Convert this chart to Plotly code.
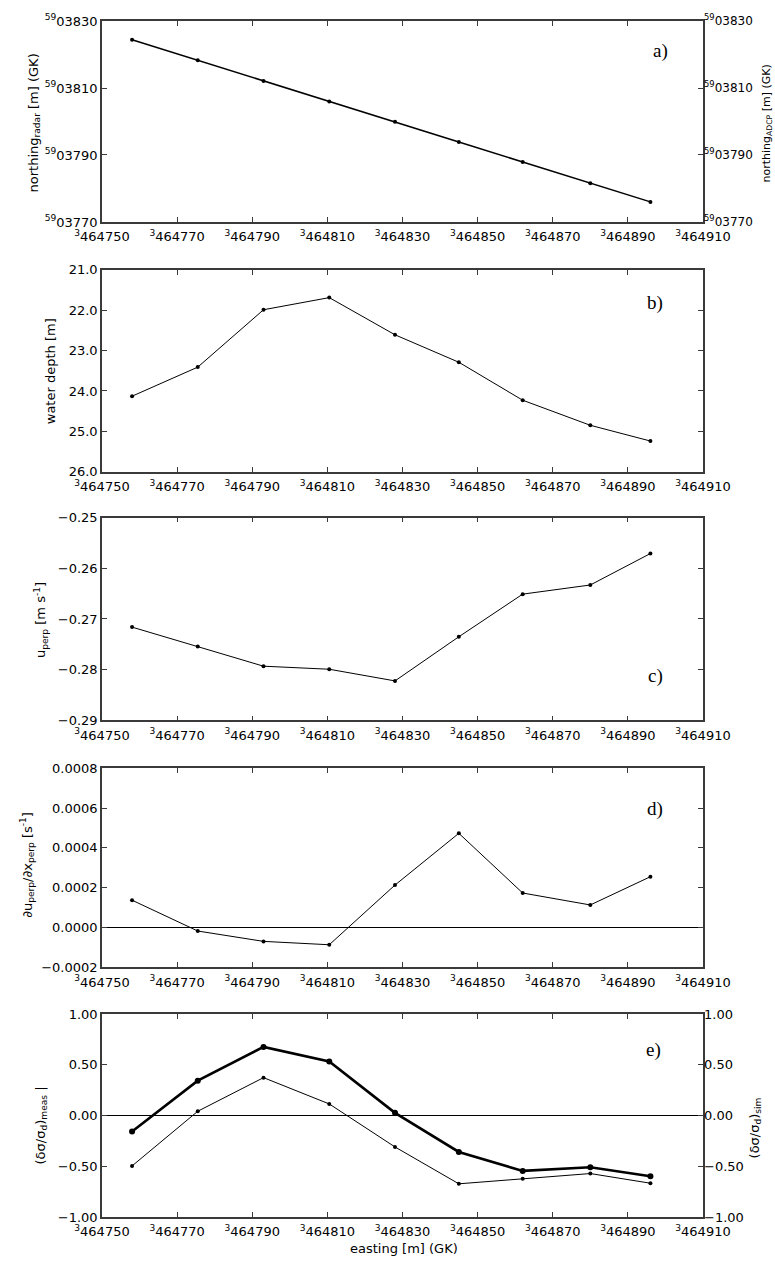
import plotly.graph_objects as go

# ---------------- data ----------------
easting = [464758, 464775.5, 464793, 464810.5, 464828, 464845, 464862, 464880, 464896]
northing = [5903824.4, 5903818.3, 5903812.1, 5903806.0, 5903799.9,
            5903793.9, 5903787.9, 5903781.6, 5903776.0]
depth = [24.13, 23.41, 21.99, 21.69, 22.61, 23.29, 24.23, 24.85, 25.24]
u_perp = [-0.2716, -0.2754, -0.2793, -0.2799, -0.2822, -0.2735, -0.2651, -0.2633, -0.2571]
dudx = [0.000137, -0.000018, -0.000070, -0.000087, 0.000213,
        0.000473, 0.000173, 0.000113, 0.000255]
ds_meas = [-0.157, 0.343, 0.676, 0.533, 0.026, -0.359, -0.546, -0.510, -0.598]
ds_sim = [-0.497, 0.042, 0.373, 0.114, -0.310, -0.673, -0.624, -0.572, -0.667]

x_tickvals = [464750, 464770, 464790, 464810, 464830, 464850, 464870, 464890, 464910]
x_ticktext = ["<sup>3</sup>464750", "<sup>3</sup>464770", "<sup>3</sup>464790",
              "<sup>3</sup>464810", "<sup>3</sup>464830", "<sup>3</sup>464850",
              "<sup>3</sup>464870", "<sup>3</sup>464890", "<sup>3</sup>464910"]
n_tickvals = [5903770, 5903790, 5903810, 5903830]
n_ticktext = ["<sup>59</sup>03770", "<sup>59</sup>03790", "<sup>59</sup>03810", "<sup>59</sup>03830"]

# ---------------- layout geometry ----------------
W, H = 775, 1261
ML, MR, MT, MB = 102, 72, 15, 44
PW, PH = W - ML - MR, H - MT - MB

def ydom(top, bot):
    return [1 - (bot - MT) / PH, 1 - (top - MT) / PH]

def px(x):
    return (x - ML) / PW

def py(y):
    return 1 - (y - MT) / PH

panels = [(15, 217), (265, 468), (514, 718), (766, 966), (1013, 1217)]

TF = dict(family="DejaVu Sans", size=13, color="black")
TFR = dict(family="DejaVu Sans", size=12, color="black")
AX = "#3a3a3a"

fig = go.Figure()
line_thin = dict(color="black", width=1)
mk = dict(color="black", size=4)

fig.add_trace(go.Scatter(x=easting, y=northing, mode="lines+markers",
                         line=dict(color="black", width=1.5), marker=mk,
                         xaxis="x", yaxis="y", showlegend=False))
fig.add_trace(go.Scatter(x=easting, y=northing, mode="lines", line=dict(width=0),
                         xaxis="x", yaxis="y6", showlegend=False, hoverinfo="skip"))
fig.add_trace(go.Scatter(x=easting, y=depth, mode="lines+markers", line=line_thin, marker=mk,
                         xaxis="x2", yaxis="y2", showlegend=False))
fig.add_trace(go.Scatter(x=easting, y=u_perp, mode="lines+markers", line=line_thin, marker=mk,
                         xaxis="x3", yaxis="y3", showlegend=False))
fig.add_trace(go.Scatter(x=easting, y=dudx, mode="lines+markers", line=line_thin, marker=mk,
                         xaxis="x4", yaxis="y4", showlegend=False))
fig.add_trace(go.Scatter(x=easting, y=ds_sim, mode="lines+markers", line=line_thin, marker=mk,
                         xaxis="x5", yaxis="y7", showlegend=False))
fig.add_trace(go.Scatter(x=easting, y=ds_meas, mode="lines+markers",
                         line=dict(color="black", width=2.6), marker=dict(color="black", size=6),
                         xaxis="x5", yaxis="y5", showlegend=False))

layout = dict(width=W, height=H, margin=dict(l=ML, r=MR, t=MT, b=MB),
              plot_bgcolor="white", paper_bgcolor="white", showlegend=False)

yranges = [[5903770, 5903830], [26, 21], [-0.29, -0.25], [-0.0002, 0.0008], [-1, 1]]
for i, (top, bot) in enumerate(panels):
    k = "" if i == 0 else str(i + 1)
    layout["xaxis" + k] = dict(domain=[0, 1], anchor="y" + k, range=[464750, 464910],
                               tickvals=x_tickvals, ticktext=x_ticktext, ticks="inside",
                               ticklen=5, tickcolor=AX, showline=True, linecolor=AX,
                               linewidth=1.6, mirror="ticks", showgrid=False, zeroline=False,
                               tickfont=TF, ticklabelstandoff=2)
    ya = dict(domain=ydom(top, bot), anchor="x" + k, range=yranges[i], ticks="inside",
              ticklen=5, tickcolor=AX, showline=True, linecolor=AX, linewidth=1.6,
              mirror="ticks", showgrid=False, tickfont=TF, zeroline=False)
    if i == 0:
        ya.update(tickvals=n_tickvals, ticktext=n_ticktext)
    elif i == 1:
        ya.update(dtick=1, tick0=21, tickformat=".1f")
    elif i == 2:
        ya.update(dtick=0.01, tick0=-0.29, tickformat=".2f")
    elif i == 3:
        ya.update(dtick=0.0002, tick0=-0.0002, tickformat=".4f",
                  zeroline=True, zerolinecolor="black", zerolinewidth=1)
    else:
        ya.update(dtick=0.5, tick0=-1, tickformat=".2f",
                  zeroline=True, zerolinecolor="black", zerolinewidth=1)
    layout["yaxis" + k] = ya

layout["yaxis6"] = dict(overlaying="y", side="right", anchor="x", range=yranges[0],
                        tickvals=n_tickvals, ticktext=n_ticktext, ticks="inside", ticklen=5,
                        tickcolor=AX, showline=False, showgrid=False, zeroline=False, tickfont=TFR)
layout["yaxis7"] = dict(overlaying="y5", side="right", anchor="x5", range=yranges[4],
                        dtick=0.5, tick0=-1, tickformat=".2f", ticks="inside", ticklen=5,
                        tickcolor=AX, showline=False, showgrid=False, zeroline=False, tickfont=TF)

TT = dict(family="DejaVu Sans", size=13, color="black")
TTS = dict(family="DejaVu Sans", size=11, color="black")
LF = dict(family="Liberation Serif", size=19, color="black")
ann = []
def add_ann(text, x, y, font, angle=0):
    ann.append(dict(text=text, x=px(x), y=py(y), xref="paper", yref="paper",
                    showarrow=False, font=font, textangle=angle,
                    xanchor="center", yanchor="middle"))

add_ann("northing<sub>radar</sub> [m] (GK)", 34, 118, TT, -90)
add_ann("northing<sub>ADCP</sub> [m] (GK)", 767, 118, TTS, -90)
add_ann("water depth [m]", 50, 367, TT, -90)
add_ann("u<sub>perp</sub> [m s<sup>-1</sup>]", 41, 617, TT, -90)
add_ann("∂u<sub>perp</sub>/∂x<sub>perp</sub> [s<sup>-1</sup>]", 27, 863, TT, -90)
add_ann("(δσ/σ<sub>d</sub>)<sub>meas</sub> |", 41, 1125, TT, -90)
add_ann("(δσ/σ<sub>d</sub>)<sub>sim</sub>", 755, 1128, TT, -90)
add_ann("easting [m] (GK)", 404, 1249, TT)
for lab, (x, y) in zip(["a)", "b)", "c)", "d)", "e)"],
                       [(660, 45), (655, 298), (655, 673), (655, 807), (653, 1049)]):
    add_ann(lab, x, y, LF)
layout["annotations"] = ann

fig.update_layout(**layout)
fig.write_html("out.html", config={"displayModeBar": False},
               post_script="document.body.style.margin='0';document.body.style.overflow='hidden';")
